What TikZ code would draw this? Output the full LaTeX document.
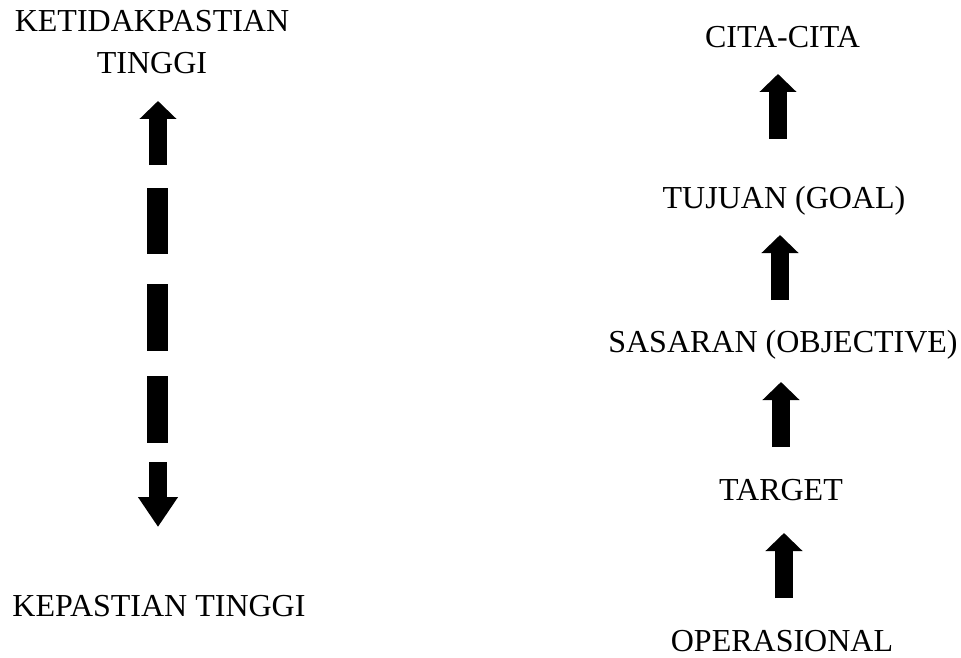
\documentclass[tikz,border=0pt]{standalone}
\usepackage{fontspec}
\setmainfont{Liberation Serif}
\usetikzlibrary{arrows.meta}
\begin{document}
\begin{tikzpicture}[x=1pt,y=-1pt,
  lbl/.style={inner sep=0pt,anchor=base,font=\fontsize{32}{42}\selectfont},
  blockarrow/.style={line width=18pt,-{Triangle[width=36pt,length=18pt]}},
  dashbar/.style={line width=21pt}]
\useasboundingbox (0,0) rectangle (961,658);
% left column
\node[lbl,align=center] (kt) at (152,74) {KETIDAKPASTIAN\\TINGGI};
\node[lbl] (kp) at (159,616) {KEPASTIAN TINGGI};
\coordinate (u0) at (158,165);
\coordinate (u1) at (158,101);
\draw[blockarrow] (u0) -- (u1);
\coordinate (d1a) at (157.5,188); \coordinate (d1b) at (157.5,254);
\coordinate (d2a) at (157.5,284); \coordinate (d2b) at (157.5,351);
\coordinate (d3a) at (157.5,376); \coordinate (d3b) at (157.5,443);
\draw[dashbar] (d1a) -- (d1b);
\draw[dashbar] (d2a) -- (d2b);
\draw[dashbar] (d3a) -- (d3b);
\coordinate (w0) at (158,462);
\coordinate (w1) at (158,527);
\draw[line width=18pt,-{Triangle[width=38pt,length=30pt]}] (w0) -- (w1);
% right column
\node[lbl] (cc) at (782.5,48) {CITA-CITA};
\node[lbl] (tj) at (784,208) {TUJUAN (GOAL)};
\node[lbl] (ss) at (783,352) {SASARAN (OBJECTIVE)};
\node[lbl] (tg) at (781,500) {TARGET};
\node[lbl] (op) at (782,651) {OPERASIONAL};
\draw[blockarrow] (778,139) -- (778,74);
\draw[blockarrow] (780,300) -- (780,235);
\draw[blockarrow] (781,447) -- (781,382);
\draw[blockarrow] (784,598) -- (784,533);
\end{tikzpicture}
\end{document}
